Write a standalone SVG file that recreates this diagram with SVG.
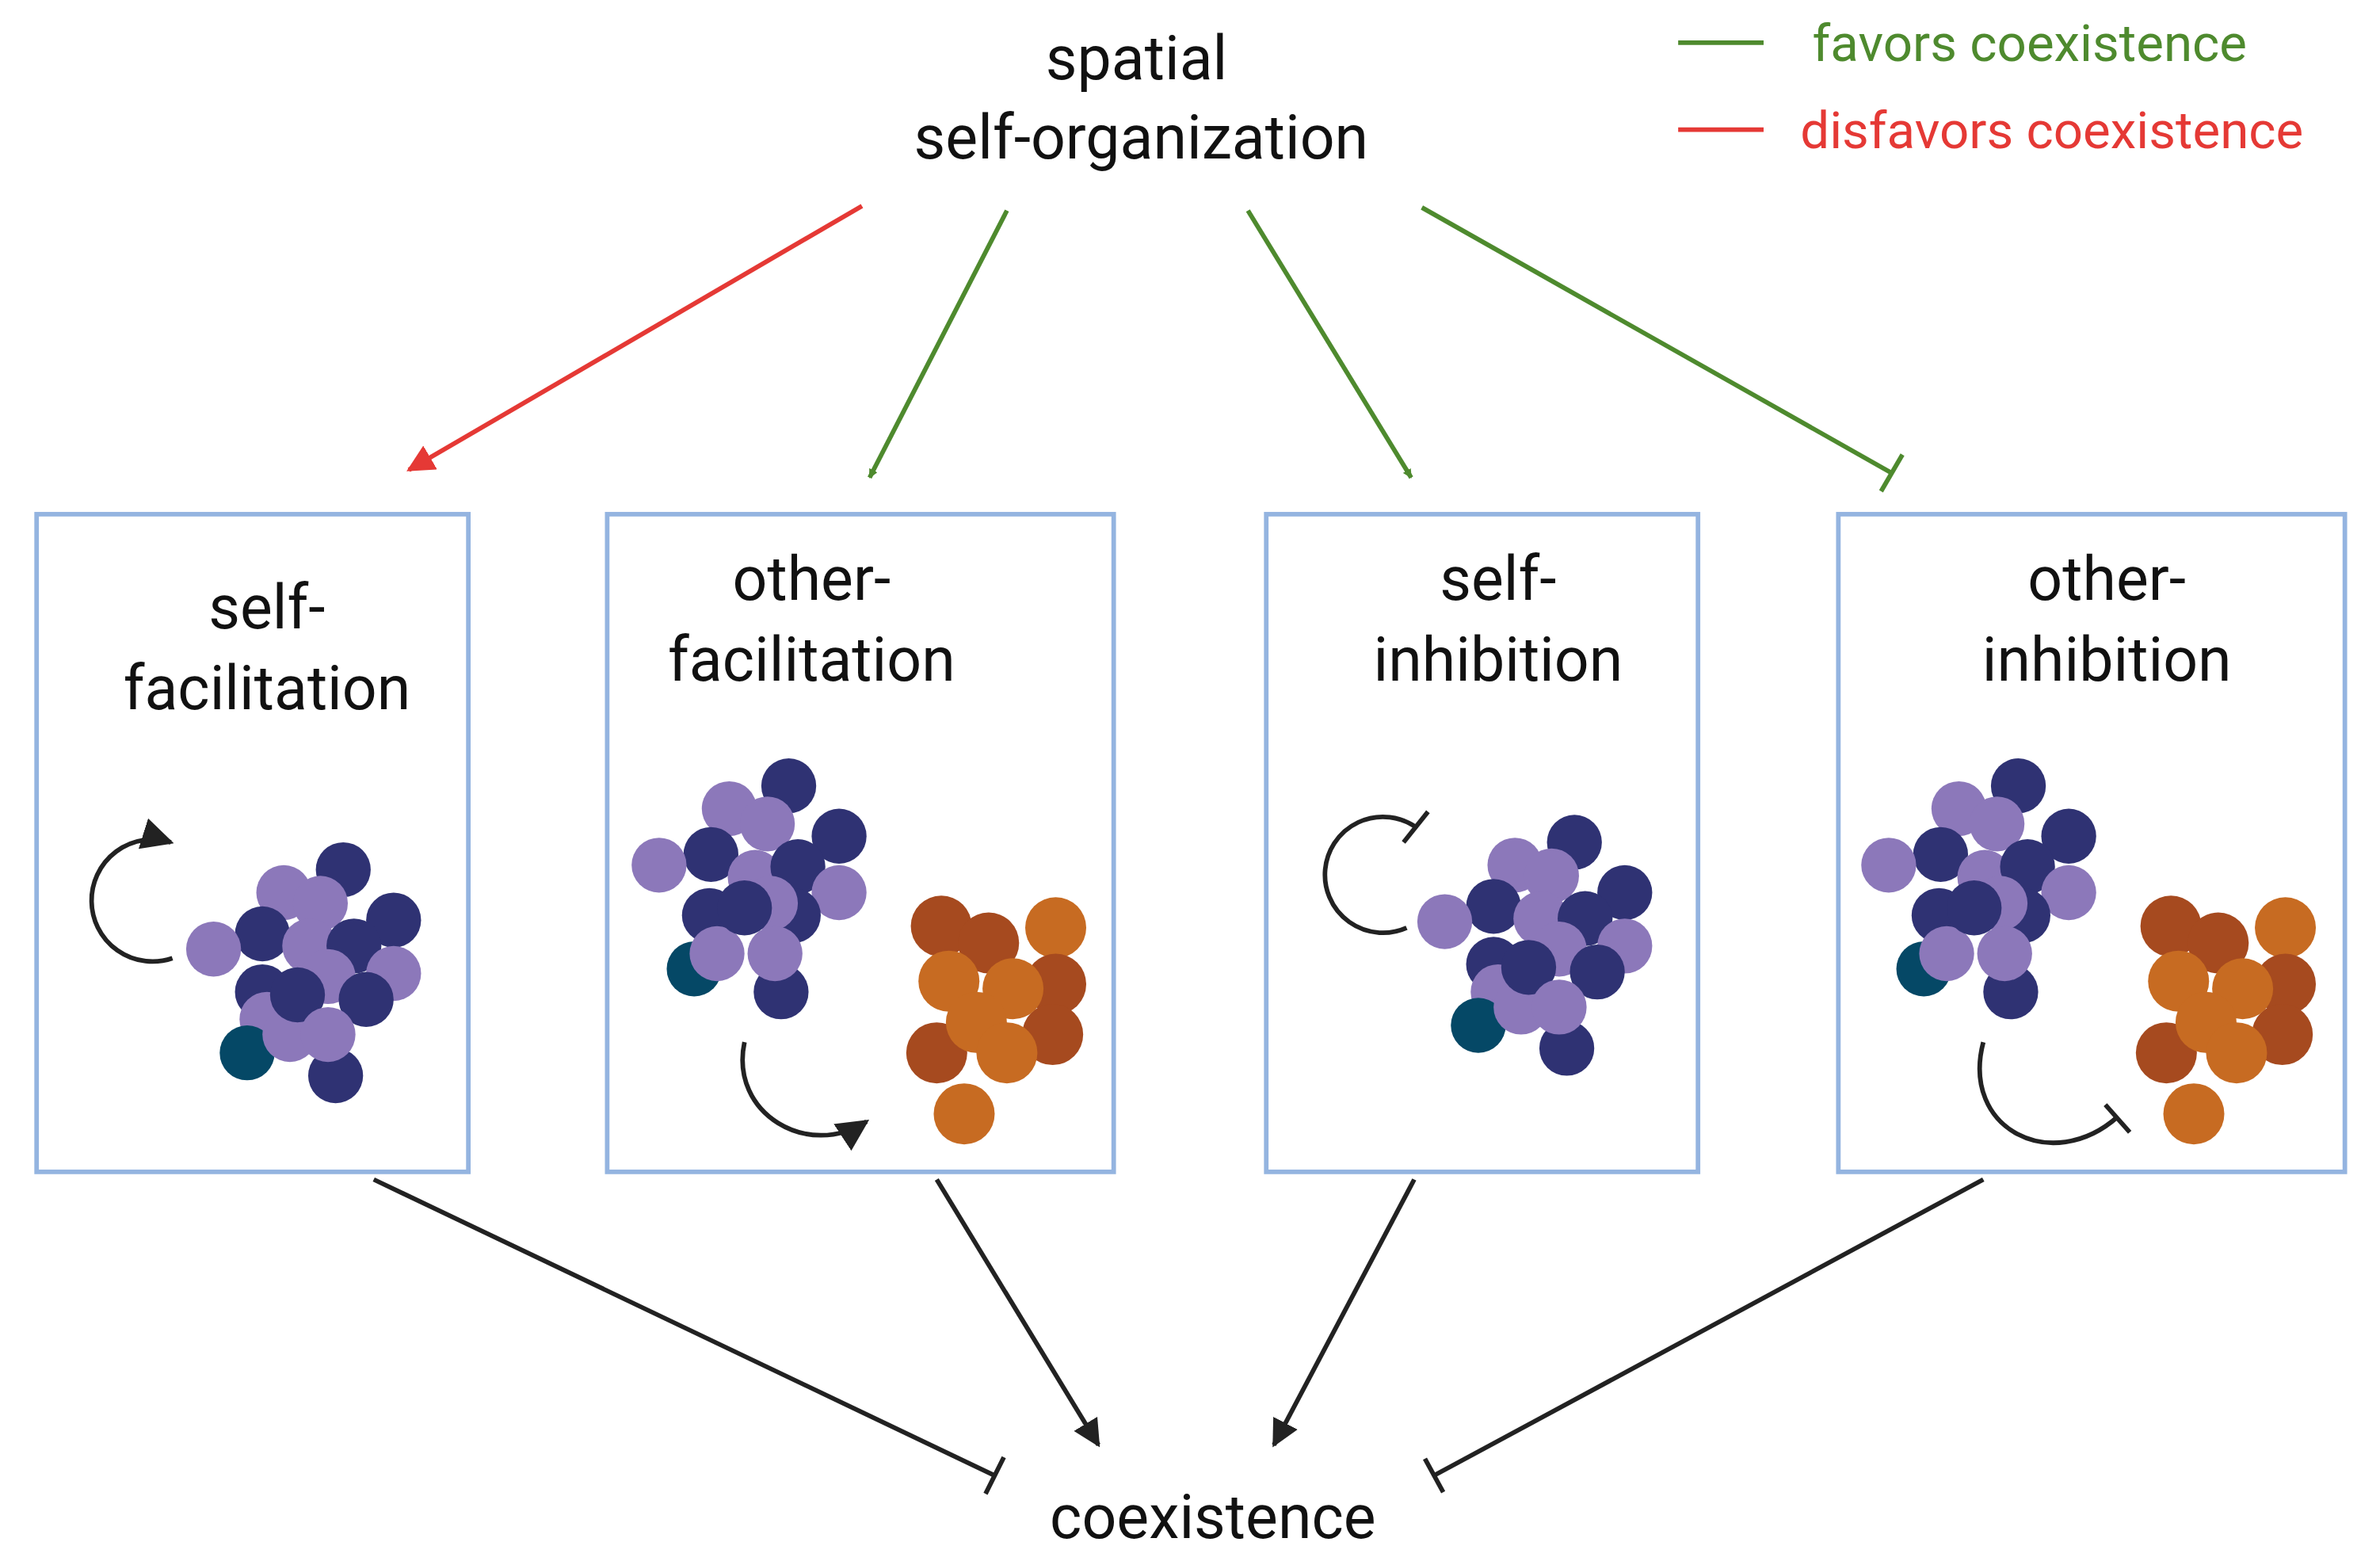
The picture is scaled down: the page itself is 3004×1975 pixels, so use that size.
<svg xmlns="http://www.w3.org/2000/svg" xmlns:xlink="http://www.w3.org/1999/xlink" width="3004" height="1975" viewBox="0 0 3004 1975">
<style>
text{font-family:Roboto,"Liberation Sans",sans-serif;}
.t{font-size:40px;fill:#111;text-anchor:middle}
.box{fill:#fff;stroke:#94b4e0;stroke-width:3}
.L{fill:#8c78ba}.D{fill:#2f3273}.T{fill:#054866}.O{fill:#c76b22}.R{fill:#a64a1f}
.c{stroke-width:3;fill:none}
</style>
<defs>
<marker id="ag" viewBox="0 0 10 10" refX="9" refY="5" markerWidth="6" markerHeight="6" orient="auto" markerUnits="userSpaceOnUse"><path d="M0,0L10,5L0,10z" fill="#4e8a2e"/></marker>
<marker id="ar" viewBox="0 0 10 10" refX="9" refY="5" markerWidth="6" markerHeight="6" orient="auto"><path d="M0,0L10,5L0,10z" fill="#e53935"/></marker>
<marker id="ak" viewBox="0 0 10 10" refX="9" refY="5" markerWidth="6" markerHeight="6" orient="auto"><path d="M0,0L10,5L0,10z" fill="#222"/></marker>
<marker id="ab" viewBox="0 0 10 10" refX="9" refY="5" markerWidth="7" markerHeight="7" orient="auto"><path d="M0,0L10,5L0,10z" fill="#222"/></marker>
<g id="cl1">
<circle class="D" cx="225" cy="570" r="18"/><circle class="L" cx="186" cy="585" r="18"/><circle class="L" cx="210" cy="592" r="18"/><circle class="D" cx="258" cy="603" r="18"/><circle class="D" cx="172" cy="612" r="18"/><circle class="L" cx="203" cy="620" r="18"/><circle class="D" cx="232" cy="620" r="18"/><circle class="L" cx="140" cy="622" r="18"/><circle class="L" cx="258" cy="638" r="18"/><circle class="D" cx="172" cy="650" r="18"/><circle class="L" cx="215" cy="640" r="18"/><circle class="D" cx="240" cy="655" r="18"/><circle class="L" cx="175" cy="668" r="18"/><circle class="T" cx="162" cy="690" r="18"/><circle class="D" cx="220" cy="705" r="18"/><circle class="L" cx="190" cy="678" r="18"/><circle class="D" cx="195" cy="652" r="18"/><circle class="L" cx="215" cy="678" r="18"/>
</g>
<g id="cl2">
<circle class="D" cx="517" cy="515" r="18"/><circle class="L" cx="478" cy="530" r="18"/><circle class="D" cx="550" cy="548" r="18"/><circle class="D" cx="466" cy="560" r="18"/><circle class="L" cx="503" cy="540" r="18"/><circle class="L" cx="432" cy="567" r="18"/><circle class="L" cx="495" cy="575" r="18"/><circle class="D" cx="523" cy="568" r="18"/><circle class="L" cx="550" cy="585" r="18"/><circle class="D" cx="465" cy="600" r="18"/><circle class="D" cx="520" cy="600" r="18"/><circle class="L" cx="505" cy="592" r="18"/><circle class="T" cx="455" cy="635" r="18"/><circle class="L" cx="470" cy="625" r="18"/><circle class="D" cx="488" cy="595" r="18"/><circle class="D" cx="512" cy="650" r="18"/><circle class="L" cx="508" cy="625" r="18"/>
<circle class="R" cx="617" cy="607" r="20"/><circle class="R" cx="648" cy="618" r="20"/><circle class="O" cx="692" cy="608" r="20"/><circle class="R" cx="692" cy="645" r="20"/><circle class="O" cx="622" cy="643" r="20"/><circle class="R" cx="690" cy="678" r="20"/><circle class="O" cx="664" cy="648" r="20"/><circle class="R" cx="614" cy="690" r="20"/><circle class="O" cx="640" cy="670" r="20"/><circle class="O" cx="660" cy="690" r="20"/><circle class="O" cx="632" cy="730" r="20"/>
</g>
</defs>
<rect width="3004" height="1975" fill="#fff"/>
<g transform="scale(1.9256)">
<g id="title"><text class="t" x="745" y="52">spatial</text><text class="t" x="748" y="104">self-organization</text></g>
<g id="legend" style="font-size:34px">
<line x1="1100" y1="28" x2="1156" y2="28" stroke="#4e8a2e" stroke-width="3"/><text x="1188" y="40" fill="#4e8a2e">favors coexistence</text>
<line x1="1100" y1="85" x2="1156" y2="85" stroke="#e53935" stroke-width="3"/><text x="1180" y="97" fill="#e53935">disfavors coexistence</text>
</g>
<g id="n1"><rect class="box" x="24" y="337" width="283" height="431"/><text class="t" x="175" y="412">self-</text><text class="t" x="175" y="465">facilitation</text><use href="#cl1"/>
<path class="c" stroke="#222" d="M113,628 A40,40 0 1 1 112,552" marker-end="url(#ab)"/></g>
<g id="n2"><rect class="box" x="398" y="337" width="332" height="431"/><text class="t" x="532" y="393">other-</text><text class="t" x="532" y="446">facilitation</text><use href="#cl2"/>
<path class="c" stroke="#222" d="M488,683 C478,730 530,760 568,735" marker-end="url(#ab)"/></g>
<g id="n3"><rect class="box" x="830" y="337" width="283" height="431"/><text class="t" x="982" y="393">self-</text><text class="t" x="982" y="446">inhibition</text><use href="#cl1" transform="translate(807,-18)"/>
<path class="c" stroke="#222" d="M922,608 A38,38 0 1 1 928,542"/><line x1="920" y1="552" x2="936" y2="532" stroke="#222" stroke-width="3"/></g>
<g id="n4"><rect class="box" x="1205" y="337" width="332" height="431"/><text class="t" x="1381" y="393">other-</text><text class="t" x="1381" y="446">inhibition</text><use href="#cl2" transform="translate(806,0)"/>
<path class="c" stroke="#222" stroke-width="4" d="M1300,683 C1285,740 1345,770 1388,732"/><line x1="1380" y1="724" x2="1396" y2="742" stroke="#222" stroke-width="3"/></g>
<g id="coex"><text class="t" x="795" y="1008">coexistence</text></g>
<g id="connectors" stroke-width="3" fill="none">
<line x1="565" y1="135" x2="268" y2="308" stroke="#e53935" marker-end="url(#ar)"/>
<line x1="660" y1="138" x2="570" y2="313" stroke="#4e8a2e" marker-end="url(#ag)"/>
<line x1="818" y1="138" x2="925" y2="313" stroke="#4e8a2e" marker-end="url(#ag)"/>
<line x1="932" y1="136" x2="1240" y2="310" stroke="#4e8a2e"/><line x1="1233" y1="322" x2="1247" y2="298" stroke="#4e8a2e"/>
<line x1="245" y1="773" x2="652" y2="967" stroke="#222"/><line x1="646" y1="979" x2="658" y2="955" stroke="#222"/>
<line x1="614" y1="773" x2="720" y2="947" stroke="#222" marker-end="url(#ak)"/>
<line x1="927" y1="773" x2="835" y2="947" stroke="#222" marker-end="url(#ak)"/>
<line x1="1300" y1="773" x2="940" y2="967" stroke="#222"/><line x1="934" y1="956" x2="946" y2="978" stroke="#222"/>
</g>
</g>
</svg>
